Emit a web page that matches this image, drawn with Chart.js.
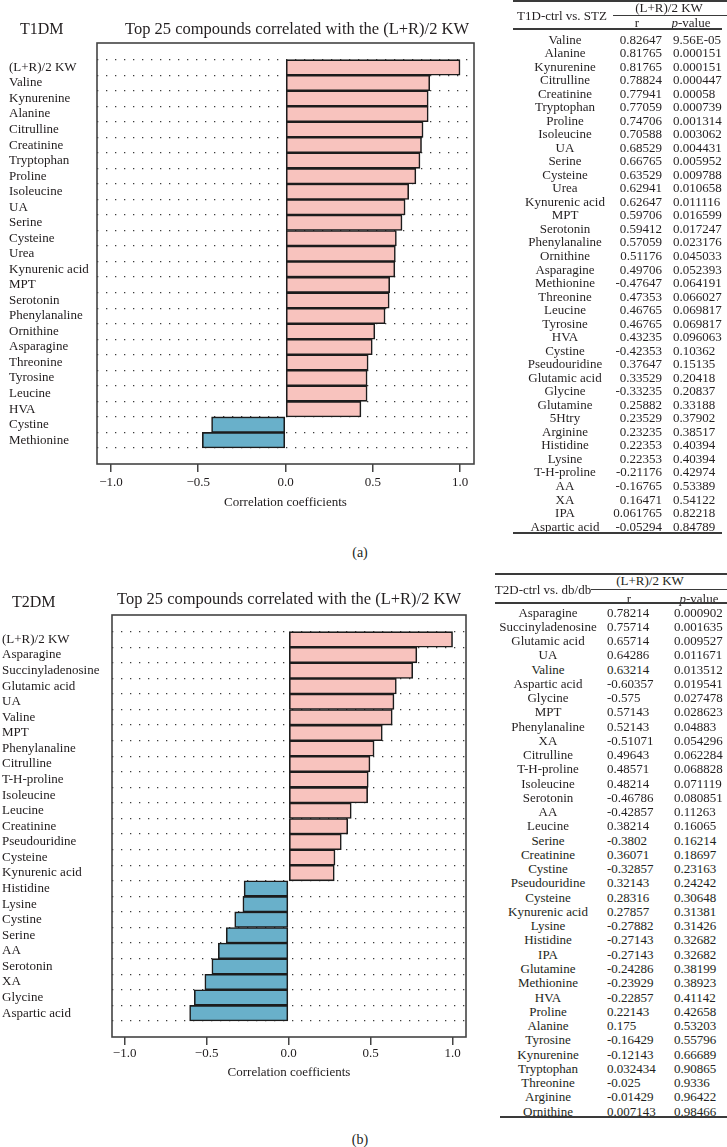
<!DOCTYPE html>
<html><head><meta charset="utf-8">
<script src="https://cdn.jsdelivr.net/npm/chart.js@4.4.0/dist/chart.umd.min.js"></script>
<style>
html,body{margin:0;padding:0;background:#fff;}
body{width:727px;height:1147px;position:relative;overflow:hidden;font-family:"Liberation Serif","DejaVu Serif",serif;color:#231f20;}
.t{position:absolute;white-space:nowrap;line-height:1;font-size:13px;}
.hl{position:absolute;background:#3a3a3a;}
canvas{position:absolute;left:0;}
</style></head><body>
<canvas id="cA" width="480" height="520" style="top:0px"></canvas>
<canvas id="cB" width="480" height="520" style="top:570px"></canvas>
<script>
// ---------- Chart (a) data ----------
const catsA = ["(L+R)/2 KW","Valine","Kynurenine","Alanine","Citrulline","Creatinine","Tryptophan","Proline","Isoleucine","UA","Serine","Cysteine","Urea","Kynurenic acid","MPT","Serotonin","Phenylanaline","Ornithine","Asparagine","Threonine","Tyrosine","Leucine","HVA","Cystine","Methionine"];
const valsA = [1.0,0.82647,0.81765,0.81765,0.78824,0.77941,0.77059,0.74706,0.70588,0.68529,0.66765,0.63529,0.62941,0.62647,0.59706,0.59412,0.57059,0.51176,0.49706,0.47353,0.46765,0.46765,0.43235,-0.42353,-0.47647];
// ---------- Chart (b) data ----------
const catsB = ["(L+R)/2 KW","Asparagine","Succinyladenosine","Glutamic acid","UA","Valine","MPT","Phenylanaline","Citrulline","T-H-proline","Isoleucine","Leucine","Creatinine","Pseudouridine","Cysteine","Kynurenic acid","Histidine","Lysine","Cystine","Serine","AA","Serotonin","XA","Glycine","Aspartic acid"];
const valsB = [1.0,0.78214,0.75714,0.65714,0.64286,0.63214,0.57143,0.52143,0.49643,0.48571,0.48214,0.38214,0.36071,0.32143,0.28316,0.27857,-0.27143,-0.27882,-0.32857,-0.3802,-0.42857,-0.46786,-0.51071,-0.575,-0.60357];
const xTicks = [-1.0,-0.5,0.0,0.5,1.0];
// ---------- Table (a) ----------
const tabA_names = ["Valine","Alanine","Kynurenine","Citrulline","Creatinine","Tryptophan","Proline","Isoleucine","UA","Serine","Cysteine","Urea","Kynurenic acid","MPT","Serotonin","Phenylanaline","Ornithine","Asparagine","Methionine","Threonine","Leucine","Tyrosine","HVA","Cystine","Pseudouridine","Glutamic acid","Glycine","Glutamine","5Htry","Arginine","Histidine","Lysine","T-H-proline","AA","XA","IPA","Aspartic acid"];
const tabA_r = ["0.82647","0.81765","0.81765","0.78824","0.77941","0.77059","0.74706","0.70588","0.68529","0.66765","0.63529","0.62941","0.62647","0.59706","0.59412","0.57059","0.51176","0.49706","-0.47647","0.47353","0.46765","0.46765","0.43235","-0.42353","0.37647","0.33529","-0.33235","0.25882","0.23529","0.23235","0.22353","0.22353","-0.21176","-0.16765","0.16471","0.061765","-0.05294"];
const tabA_p = ["9.56E-05","0.000151","0.000151","0.000447","0.00058","0.000739","0.001314","0.003062","0.004431","0.005952","0.009788","0.010658","0.011116","0.016599","0.017247","0.023176","0.045033","0.052393","0.064191","0.066027","0.069817","0.069817","0.096063","0.10362","0.15135","0.20418","0.20837","0.33188","0.37902","0.38517","0.40394","0.40394","0.42974","0.53389","0.54122","0.82218","0.84789"];
// ---------- Table (b) ----------
const tabB_names = ["Asparagine","Succinyladenosine","Glutamic acid","UA","Valine","Aspartic acid","Glycine","MPT","Phenylanaline","XA","Citrulline","T-H-proline","Isoleucine","Serotonin","AA","Leucine","Serine","Creatinine","Cystine","Pseudouridine","Cysteine","Kynurenic acid","Lysine","Histidine","IPA","Glutamine","Methionine","HVA","Proline","Alanine","Tyrosine","Kynurenine","Tryptophan","Threonine","Arginine","Ornithine"];
const tabB_r = ["0.78214","0.75714","0.65714","0.64286","0.63214","-0.60357","-0.575","0.57143","0.52143","-0.51071","0.49643","0.48571","0.48214","-0.46786","-0.42857","0.38214","-0.3802","0.36071","-0.32857","0.32143","0.28316","0.27857","-0.27882","-0.27143","-0.27143","-0.24286","-0.23929","-0.22857","0.22143","0.175","-0.16429","-0.12143","0.032434","-0.025","-0.01429","0.007143"];
const tabB_p = ["0.000902","0.001635","0.009527","0.011671","0.013512","0.019541","0.027478","0.028623","0.04883","0.054296","0.062284","0.068828","0.071119","0.080851","0.11263","0.16065","0.16214","0.18697","0.23163","0.24242","0.30648","0.31381","0.31426","0.32682","0.32682","0.38199","0.38923","0.41142","0.42658","0.53203","0.55796","0.66689","0.90865","0.9336","0.96422","0.98466"];

const PINK = '#f8c3be', BLUE = '#69b0ca', INK = '#1f1b1c';
const FONT = '"Liberation Serif", "DejaVu Serif", serif';

// ---------- text helpers ----------
function T(x, y, s, align, size, extra) {
  const d = document.createElement('div');
  d.className = 't';
  d.style.left = x + 'px'; d.style.top = y + 'px';
  if (size) d.style.fontSize = size + 'px';
  const tx = align === 'c' ? '-50%' : (align === 'r' ? '-100%' : '0');
  d.style.transform = 'translate(' + tx + ',-50%)';
  d.innerHTML = s;
  if (extra) Object.assign(d.style, extra);
  document.body.appendChild(d);
}
function HL(x1, x2, y, h) {
  const d = document.createElement('div');
  d.className = 'hl';
  d.style.left = x1 + 'px'; d.style.width = (x2 - x1) + 'px';
  d.style.top = (y - h / 2) + 'px'; d.style.height = h + 'px';
  document.body.appendChild(d);
}

// ---------- chart builder ----------
const boxPlugin = {
  id: 'box',
  afterDraw(chart) {
    const a = chart.chartArea, c = chart.ctx;
    c.save(); c.strokeStyle = '#444'; c.lineWidth = 1.6;
    c.strokeRect(a.left, a.top, a.right - a.left, a.bottom - a.top);
    c.restore();
  }
};
function makeChart(id, cats, vals, o) {
  return new Chart(document.getElementById(id), {
    type: 'bar',
    data: {
      datasets: [{
        data: vals.map((v, i) => ({ x: v, y: i })),
        backgroundColor: vals.map(v => v < 0 ? BLUE : PINK),
        borderColor: '#1c1c1c', borderWidth: 1.6, borderSkipped: false,
        barPercentage: 1, categoryPercentage: 1
      }]
    },
    options: {
      responsive: false, animation: false, devicePixelRatio: 1,
      indexAxis: 'y',
      layout: { padding: o.pad },
      plugins: { legend: { display: false }, tooltip: { enabled: false } },
      scales: {
        x: {
          type: 'linear', min: o.xmin, max: o.xmax,
          afterBuildTicks: s => { s.ticks = xTicks.map(v => ({ value: v })); },
          afterFit: s => { s.height = o.xH; },
          ticks: { color: INK, font: { family: FONT, size: 13 }, padding: o.tickPad,
                   callback: v => (v < 0 ? '\u2212' : '') + Math.abs(v).toFixed(1) },
          grid: { drawOnChartArea: false, drawTicks: true, tickLength: 8, color: '#444', lineWidth: 1.5 },
          border: { display: false },
          title: { display: true, text: 'Correlation coefficients', color: INK,
                   font: { family: FONT, size: 13 }, padding: { top: 0, bottom: 0 } }
        },
        y: {
          type: 'linear', reverse: true, min: -1.03, max: cats.length - 1 + 0.99,
          afterBuildTicks: s => { s.ticks = cats.map((c, i) => ({ value: i })); },
          afterFit: s => { s.width = o.yW; },
          ticks: { color: INK, font: { family: FONT, size: 13 }, crossAlign: 'far', autoSkip: false,
                   callback: (v, i) => cats[i] },
          grid: { drawTicks: false, color: '#3c3c3c', lineWidth: 1.3, borderDash: [1.3, 7.7] },
          border: { display: false, dash: [1.3, 7.7] }
        }
      }
    },
    plugins: [boxPlugin]
  });
}

makeChart('cA', catsA, valsA, { xmin: -1.08, xmax: 1.08, pad: { left: 9, top: 43, right: 6, bottom: 10 }, yW: 88, xH: 46, tickPad: 3 });
makeChart('cB', catsB, valsB, { xmin: -1.077, xmax: 1.082, pad: { left: 2, top: 45, right: 14, bottom: 10 }, yW: 110, xH: 43, tickPad: 1 });

// ---------- panel titles ----------
T(20, 29, 'T1DM', 'l', 16);
T(297, 29, 'Top 25 compounds correlated with the (L+R)/2 KW', 'c', 16.5);
T(360, 553, '(a)', 'c', 14);
T(12, 602, 'T2DM', 'l', 16);
T(289, 599, 'Top 25 compounds correlated with the (L+R)/2 KW', 'c', 16.5);
T(360, 1140, '(b)', 'c', 14);

// ---------- table (a) ----------
HL(513, 727, 1, 2);
T(562, 15, 'T1D-ctrl vs. STZ', 'c');
T(669, 7, '(L+R)/2 KW', 'c');
HL(613, 727, 15, 1);
T(637, 22, 'r', 'c');
T(691, 22, '<i>p</i>-value', 'c');
HL(513, 722, 29, 2);
tabA_names.forEach((n, i) => {
  const y = 38.5 + i * 13.53;
  T(565, y, n, 'c');
  T(662, y, tabA_r[i], 'r');
  T(673, y, tabA_p[i], 'l');
});
HL(513, 722, 533, 2);

// ---------- table (b) ----------
HL(495, 727, 574, 2);
T(650, 580, '(L+R)/2 KW', 'c');
T(543, 589, 'T2D-ctrl vs. db/db', 'c');
HL(591, 727, 589, 1);
T(629, 598, 'r', 'c');
T(699, 598, '<i>p</i>-value', 'c');
HL(495, 727, 603, 2);
tabB_names.forEach((n, i) => {
  const y = 611.5 + i * 14.26;
  T(548, y, n, 'c');
  T(607, y, tabB_r[i], 'l');
  T(674, y, tabB_p[i], 'l');
});
HL(500, 727, 1117, 2);
</script>
</body></html>
